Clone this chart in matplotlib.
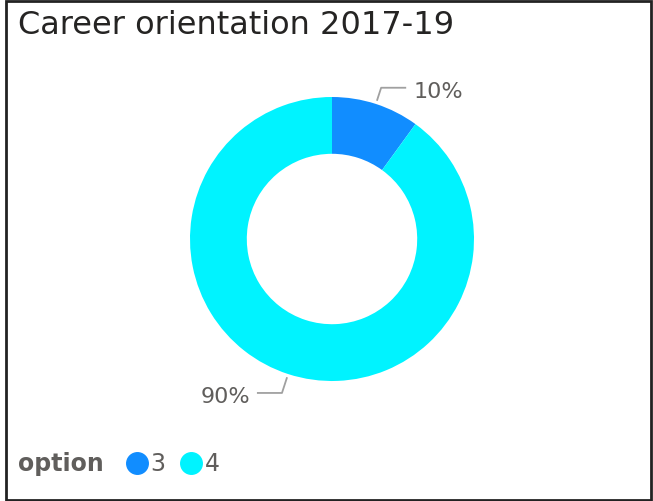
import numpy as np
import matplotlib
matplotlib.use("Agg")
import matplotlib.pyplot as plt
from matplotlib.patches import Rectangle
from matplotlib.lines import Line2D

title = "Career orientation 2017-19"
legend_title = "option"
categories = ["3", "4"]
values = [10, 90]
colors = ["#118DFF", "#00F3FF"]

W, H = 653, 502
fig = plt.figure(figsize=(W / 100, H / 100), dpi=100)
fig.patch.set_facecolor("white")

# border
fig.add_artist(Rectangle((5.5 / W, 1.5 / H), 645 / W, 498.5 / H, transform=fig.transFigure,
                         fill=False, edgecolor="#222222", linewidth=2))

# title
fig.text(18 / W, 1 - 25 / H, title, fontsize=23, color="#252423", va="center", ha="left",
         family="DejaVu Sans")

cx, cy, R = 332, 240, 142
ax = fig.add_axes([(cx - R) / W, (H - cy - R) / H, 2 * R / W, 2 * R / H])
wedges, _ = ax.pie(values, colors=colors, startangle=90, counterclock=False, radius=1.0,
                   wedgeprops=dict(width=0.4, edgecolor="none"))
ax.set_xlim(-1, 1)
ax.set_ylim(-1, 1)
ax.set_aspect("equal")
ax.axis("off")

total = sum(values)
for w, v in zip(wedges, values):
    ang = np.deg2rad((w.theta1 + w.theta2) / 2)
    x0, y0 = 1.03 * np.cos(ang), 1.03 * np.sin(ang)
    r1 = 1.12 if np.sin(ang) >= 0 else 1.14
    x1, y1 = r1 * np.cos(ang), r1 * np.sin(ang)
    side = 1 if np.cos(ang) >= 0 else -1
    x2 = x1 + side * 0.17
    ax.add_line(Line2D([x0, x1, x2], [y0, y1, y1], color="#A0A0A0", linewidth=1.3, clip_on=False))
    ax.text(x2 + side * 0.055, y1 - 0.022, f"{round(100 * v / total)}%", fontsize=16,
            color="#605E5C", ha="left" if side > 0 else "right", va="center", clip_on=False)

# legend
ly = 1 - 464 / H
fig.text(18 / W, ly, legend_title, fontsize=17, fontweight="bold", color="#605E5C", va="center")
xs_marker = [136.5, 191]
for xm, c, lab in zip(xs_marker, colors, categories):
    fig.add_artist(Line2D([xm / W], [ly], marker="o", markersize=15.5, color=c,
                          transform=fig.transFigure, linestyle="none"))
    fig.text((xm + 14) / W, ly, lab, fontsize=17, color="#605E5C", va="center")

fig.savefig("out.png", dpi=100, facecolor="white")
